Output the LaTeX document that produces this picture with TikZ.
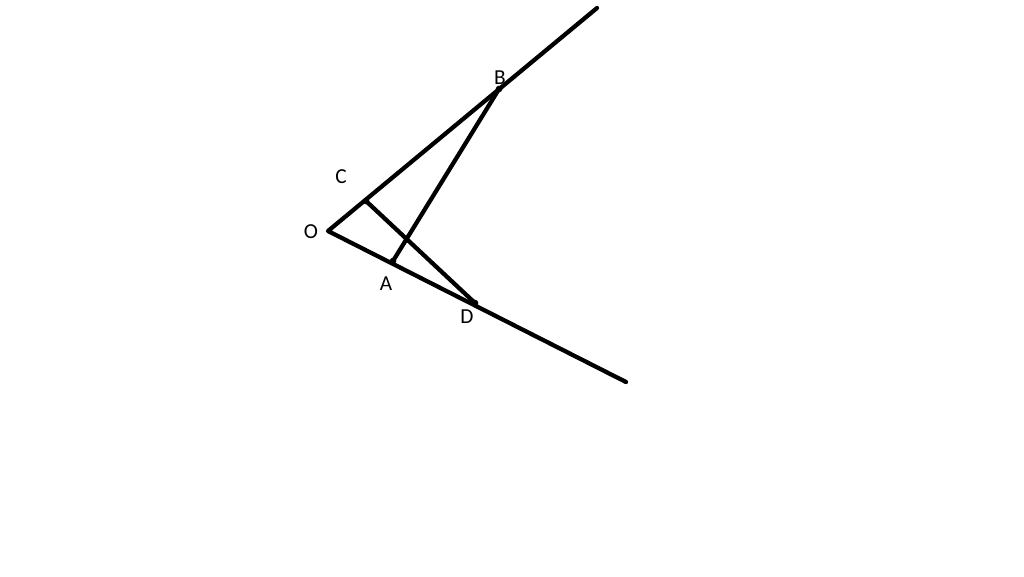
\documentclass[tikz,border=0pt]{standalone}
\usepackage{fontspec}
\setmainfont{Carlito}
\begin{document}
\begin{tikzpicture}[x=0.75pt,y=-0.75pt,
  seg/.style={line width=3.2pt,line cap=round,line join=round},
  lbl/.style={font=\fontsize{16}{19}\selectfont,inner sep=0pt},
  pt/.style={circle,fill=black,inner sep=0pt,minimum size=5pt}]
\useasboundingbox[fill=white] (0,0) rectangle (1024,576);
\coordinate (O) at (328,231);
\coordinate (C) at (366,201);
\coordinate (B) at (499,89);
\coordinate (T) at (597,8);
\coordinate (A) at (393,261);
\coordinate (D) at (475,303);
\coordinate (E) at (626,382);
\draw[seg] (T) -- (O) -- (E);
\draw[seg] (C) -- (D);
\draw[seg] (A) -- (B);
\foreach \p in {A,B,C,D} \node[pt] at (\p) {};
\node[lbl] (lO) at (311,232) {O};
\node[lbl] (lC) at (341,177) {C};
\node[lbl] (lB) at (500,78) {B};
\node[lbl] (lA) at (386,284) {A};
\node[lbl] (lD) at (467,317) {D};
\end{tikzpicture}
\end{document}
